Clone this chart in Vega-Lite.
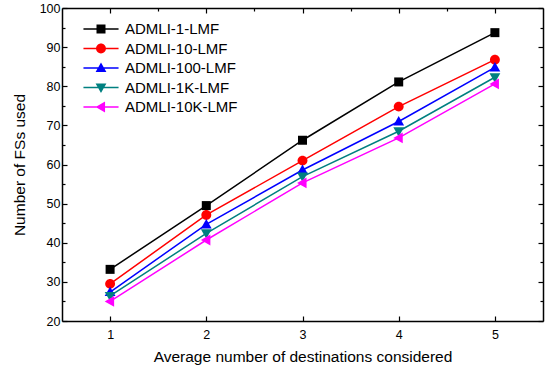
{
  "$schema": "https://vega.github.io/schema/vega-lite/v6.json",
  "width": 481,
  "height": 313,
  "autosize": {"type": "none"},
  "padding": {"left": 62, "top": 8, "right": 4, "bottom": 50},
  "background": "white",
  "config": {
    "font": "Liberation Sans",
    "view": {"stroke": null},
    "axis": {
      "grid": false,
      "domainColor": "black",
      "domainWidth": 1.5,
      "tickColor": "black",
      "tickWidth": 1.2,
      "labelColor": "black",
      "titleColor": "black",
      "labelFont": "Liberation Sans",
      "titleFont": "Liberation Sans",
      "labelFontSize": 12.5,
      "titleFontSize": 15.5,
      "titleFontWeight": "normal"
    }
  },
  "data": {
    "values": [
      {"d": 1, "s": "ADMLI-1-LMF", "v": 33.2},
      {"d": 2, "s": "ADMLI-1-LMF", "v": 49.5},
      {"d": 3, "s": "ADMLI-1-LMF", "v": 66.2},
      {"d": 4, "s": "ADMLI-1-LMF", "v": 81.1},
      {"d": 5, "s": "ADMLI-1-LMF", "v": 93.7},
      {"d": 1, "s": "ADMLI-10-LMF", "v": 29.5},
      {"d": 2, "s": "ADMLI-10-LMF", "v": 47.1},
      {"d": 3, "s": "ADMLI-10-LMF", "v": 61.0},
      {"d": 4, "s": "ADMLI-10-LMF", "v": 74.8},
      {"d": 5, "s": "ADMLI-10-LMF", "v": 86.8},
      {"d": 1, "s": "ADMLI-100-LMF", "v": 27.4},
      {"d": 2, "s": "ADMLI-100-LMF", "v": 44.7},
      {"d": 3, "s": "ADMLI-100-LMF", "v": 58.6},
      {"d": 4, "s": "ADMLI-100-LMF", "v": 71.0},
      {"d": 5, "s": "ADMLI-100-LMF", "v": 84.8},
      {"d": 1, "s": "ADMLI-1K-LMF", "v": 26.4},
      {"d": 2, "s": "ADMLI-1K-LMF", "v": 42.4},
      {"d": 3, "s": "ADMLI-1K-LMF", "v": 56.9},
      {"d": 4, "s": "ADMLI-1K-LMF", "v": 68.5},
      {"d": 5, "s": "ADMLI-1K-LMF", "v": 82.3},
      {"d": 1, "s": "ADMLI-10K-LMF", "v": 25.0},
      {"d": 2, "s": "ADMLI-10K-LMF", "v": 40.7},
      {"d": 3, "s": "ADMLI-10K-LMF", "v": 55.3},
      {"d": 4, "s": "ADMLI-10K-LMF", "v": 66.8},
      {"d": 5, "s": "ADMLI-10K-LMF", "v": 80.6}
    ]
  },
  "layer": [
    {
      "mark": {"type": "line", "strokeWidth": 1.5},
      "encoding": {
        "x": {
          "field": "d", "type": "quantitative",
          "scale": {"domain": [0.5, 5.5], "nice": false, "zero": false},
          "axis": {
            "orient": "bottom",
            "title": "Average number of destinations considered",
            "titlePadding": 9,
            "values": [1, 1.5, 2, 2.5, 3, 3.5, 4, 4.5, 5],
            "format": "d",
            "labelExpr": "datum.value % 1 === 0 ? datum.label : ''",
            "tickSize": {"condition": {"test": "datum.value % 1 === 0", "value": -5}, "value": -3},
            "labelPadding": 12
          }
        },
        "y": {
          "field": "v", "type": "quantitative",
          "scale": {"domain": [20, 100], "nice": false, "zero": false},
          "axis": {
            "orient": "left",
            "title": "Number of FSs used",
            "titlePadding": 12,
            "values": [20, 25, 30, 35, 40, 45, 50, 55, 60, 65, 70, 75, 80, 85, 90, 95, 100],
            "labelExpr": "datum.value % 10 === 0 ? datum.label : ''",
            "tickSize": {"condition": {"test": "datum.value % 10 === 0", "value": -5}, "value": -3},
            "labelPadding": 7
          }
        },
        "color": {
          "field": "s", "type": "nominal", "legend": null,
          "scale": {
            "domain": ["ADMLI-1-LMF", "ADMLI-10-LMF", "ADMLI-100-LMF", "ADMLI-1K-LMF", "ADMLI-10K-LMF"],
            "range": ["#000000", "#ff0000", "#0000ff", "#008080", "#ff00ff"]
          }
        },
        "detail": {"field": "s"}
      }
    },
    {
      "mark": {"type": "point", "filled": true, "opacity": 1, "size": 81, "strokeWidth": 0},
      "encoding": {
        "x": {"field": "d", "type": "quantitative", "axis": null},
        "y": {"field": "v", "type": "quantitative", "axis": null},
        "color": {
          "field": "s", "type": "nominal", "legend": null,
          "scale": {
            "domain": ["ADMLI-1-LMF", "ADMLI-10-LMF", "ADMLI-100-LMF", "ADMLI-1K-LMF", "ADMLI-10K-LMF"],
            "range": ["#000000", "#ff0000", "#0000ff", "#008080", "#ff00ff"]
          }
        },
        "shape": {
          "field": "s", "type": "nominal", "legend": null,
          "scale": {
            "domain": ["ADMLI-1-LMF", "ADMLI-10-LMF", "ADMLI-100-LMF", "ADMLI-1K-LMF", "ADMLI-10K-LMF"],
            "range": [
              "M-1,-1H1V1H-1Z",
              "M-1.1,0A1.1,1.1 0 1,1 1.1,0A1.1,1.1 0 1,1 -1.1,0Z",
              "M0,-1.2L1.2,0.9H-1.2Z",
              "M0,1.2L-1.2,-0.9H1.2Z",
              "M-1.2,0L0.9,-1.2V1.2Z"
            ]
          }
        }
      }
    },
    {
      "mark": {"type": "point", "filled": true, "opacity": 0, "size": 81, "strokeWidth": 0},
      "encoding": {
        "x": {
          "field": "d", "type": "quantitative",
          "axis": {
            "orient": "top", "title": null, "labels": false,
            "values": [1, 1.5, 2, 2.5, 3, 3.5, 4, 4.5, 5],
            "tickSize": {"condition": {"test": "datum.value % 1 === 0", "value": -5}, "value": -3}
          }
        },
        "y": {
          "field": "v", "type": "quantitative",
          "axis": {
            "orient": "right", "title": null, "labels": false,
            "values": [20, 25, 30, 35, 40, 45, 50, 55, 60, 65, 70, 75, 80, 85, 90, 95, 100],
            "tickSize": {"condition": {"test": "datum.value % 10 === 0", "value": -5}, "value": -3}
          }
        },
        "color": {
          "field": "s", "type": "nominal",
          "scale": {
            "domain": ["ADMLI-1-LMF", "ADMLI-10-LMF", "ADMLI-100-LMF", "ADMLI-1K-LMF", "ADMLI-10K-LMF"],
            "range": ["#000000", "#ff0000", "#0000ff", "#008080", "#ff00ff"]
          },
          "legend": {
            "title": null,
            "orient": "none",
            "legendX": 31.5,
            "legendY": 13.5,
            "padding": 0,
            "labelFont": "Liberation Sans",
            "labelFontSize": 15,
            "labelColor": "black",
            "labelOffset": 16.5,
            "rowPadding": 3.5,
            "symbolOpacity": 1,
            "symbolStrokeWidth": 0,
            "symbolSize": 81
          }
        },
        "shape": {
          "field": "s", "type": "nominal",
          "scale": {
            "domain": ["ADMLI-1-LMF", "ADMLI-10-LMF", "ADMLI-100-LMF", "ADMLI-1K-LMF", "ADMLI-10K-LMF"],
            "range": [
              "M-3.9,-0.17H3.9V0.17H-3.9Z M-1,-1H1V1H-1Z",
              "M-3.9,-0.17H3.9V0.17H-3.9Z M-1.1,0A1.1,1.1 0 1,1 1.1,0A1.1,1.1 0 1,1 -1.1,0Z",
              "M-3.9,-0.17H3.9V0.17H-3.9Z M0,-1.2L1.2,0.9H-1.2Z",
              "M-3.9,-0.17H3.9V0.17H-3.9Z M0,1.2L-1.2,-0.9H1.2Z",
              "M-3.9,-0.17H3.9V0.17H-3.9Z M-1.2,0L0.9,-1.2V1.2Z"
            ]
          },
          "legend": {
            "title": null,
            "orient": "none",
            "legendX": 31.5,
            "legendY": 13.5,
            "padding": 0,
            "labelFont": "Liberation Sans",
            "labelFontSize": 15,
            "labelColor": "black",
            "labelOffset": 16.5,
            "rowPadding": 3.5,
            "symbolOpacity": 1,
            "symbolStrokeWidth": 0,
            "symbolSize": 81
          }
        }
      }
    }
  ],
  "resolve": {
    "scale": {"color": "independent", "shape": "independent"},
    "axis": {"x": "independent", "y": "independent"},
    "legend": {"color": "independent", "shape": "independent"}
  }
}
